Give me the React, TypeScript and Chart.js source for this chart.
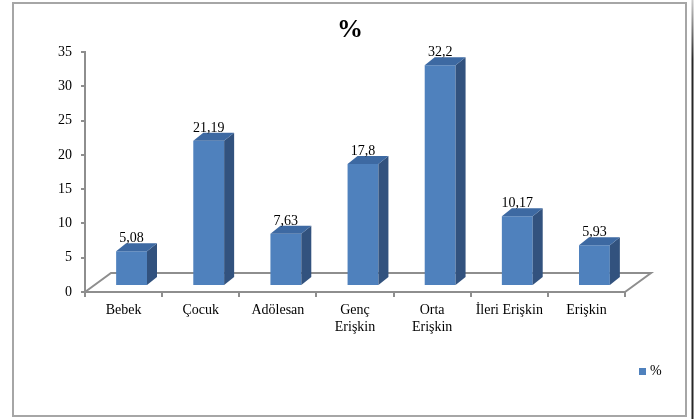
import { useEffect, useRef } from 'react';
import { Chart, registerables } from 'chart.js';

Chart.register(...registerables);

const categories: (string | string[])[] = [
  'Bebek',
  'Çocuk',
  'Adölesan',
  ['Genç', 'Erişkin'],
  ['Orta', 'Erişkin'],
  'İleri Erişkin',
  'Erişkin',
];
const values = [5.08, 21.19, 7.63, 17.8, 32.2, 10.17, 5.93];
const seriesLabel = '%';
const chartTitle = '%';
const yMin = 0;
const yMax = 35;
const yStep = 5;

const FONT = "'Liberation Serif', 'DejaVu Serif', serif";
const FRONT = '#4F81BD';
const SIDE = '#32527E';
const TOP = '#3D69A2';
const AXIS = '#8E8E8E';

const BAR_DX = 8;
const BAR_DY = -6;
const DEPTH_X = 10;
const DEPTH_Y = 8;
const FLOOR_X = 26;
const FLOOR_Y = 19;

const fmt = (v: number) => String(v).replace('.', ',');

const threeD = {
  id: 'threeD',
  beforeDatasetsDraw(chart: any) {
    const { ctx, chartArea: a } = chart;
    ctx.save();
    ctx.strokeStyle = AXIS;
    ctx.lineWidth = 2;
    ctx.beginPath();
    ctx.moveTo(a.left, a.bottom);
    ctx.lineTo(a.left + FLOOR_X, a.bottom - FLOOR_Y);
    ctx.lineTo(a.right + FLOOR_X, a.bottom - FLOOR_Y);
    ctx.lineTo(a.right, a.bottom);
    ctx.stroke();
    ctx.restore();
    ctx.save();
    ctx.translate(BAR_DX, BAR_DY);
  },
  afterDatasetsDraw(chart: any) {
    const ctx = chart.ctx;
    const meta = chart.getDatasetMeta(0);
    const data = chart.data.datasets[0].data as number[];
    meta.data.forEach((bar: any, i: number) => {
      const { x, y, base, width } = bar.getProps(['x', 'y', 'base', 'width'], true);
      const l = x - width / 2;
      const r = x + width / 2;
      ctx.fillStyle = SIDE;
      ctx.beginPath();
      ctx.moveTo(r, y);
      ctx.lineTo(r + DEPTH_X, y - DEPTH_Y);
      ctx.lineTo(r + DEPTH_X, base - DEPTH_Y);
      ctx.lineTo(r, base);
      ctx.closePath();
      ctx.fill();
      ctx.fillStyle = TOP;
      ctx.beginPath();
      ctx.moveTo(l, y);
      ctx.lineTo(l + DEPTH_X, y - DEPTH_Y);
      ctx.lineTo(r + DEPTH_X, y - DEPTH_Y);
      ctx.lineTo(r, y);
      ctx.closePath();
      ctx.fill();
      ctx.fillStyle = '#000';
      ctx.font = `14px ${FONT}`;
      ctx.textAlign = 'center';
      ctx.textBaseline = 'alphabetic';
      ctx.fillText(fmt(data[i]), x, y - 9);
    });
    ctx.restore();
  },
  afterDraw(chart: any) {
    const ctx = chart.ctx;
    ctx.save();
    // outer frame
    ctx.strokeStyle = '#A6A6A6';
    ctx.lineWidth = 2;
    ctx.strokeRect(13, 3, 673, 413);
    const g = ctx.createLinearGradient(0, 0, 0, 60);
    g.addColorStop(0, '#CCCCCC');
    g.addColorStop(1, '#262626');
    ctx.strokeStyle = g;
    ctx.beginPath();
    ctx.moveTo(692.5, 0);
    ctx.lineTo(692.5, 419);
    ctx.stroke();
    // legend
    const ds = chart.data.datasets[0];
    ctx.fillStyle = ds.backgroundColor;
    ctx.fillRect(639, 368, 7, 7);
    ctx.fillStyle = '#000';
    ctx.font = `14px ${FONT}`;
    ctx.textAlign = 'left';
    ctx.textBaseline = 'middle';
    ctx.fillText(ds.label, 650, 371);
    ctx.restore();
  },
};

export default function App() {
  const ref = useRef<HTMLCanvasElement | null>(null);
  useEffect(() => {
    if (!ref.current) return;
    Chart.defaults.font.family = FONT;
    const chart = new Chart(ref.current, {
      type: 'bar',
      data: {
        labels: categories,
        datasets: [
          {
            label: seriesLabel,
            data: values,
            backgroundColor: FRONT,
            borderWidth: 0,
            categoryPercentage: 1,
            barPercentage: 0.4,
          },
        ],
      },
      options: {
        responsive: false,
        animation: false,
        layout: { padding: { left: 6, right: 0, top: 0, bottom: 0 } },
        plugins: {
          legend: { display: false },
          tooltip: { enabled: false },
          title: {
            display: true,
            text: chartTitle,
            color: '#000',
            font: { size: 26, weight: 'bold', family: FONT },
            padding: { top: 15, bottom: 5.8 },
          },
        },
        scales: {
          x: {
            afterFit: (s: any) => {
              s.height = 127;
            },
            grid: { display: true, drawOnChartArea: false, offset: true, tickLength: 5, color: AXIS, lineWidth: 2 },
            border: { display: true, color: AXIS, width: 2 },
            ticks: { color: '#000', font: { size: 14, family: FONT }, padding: 5, maxRotation: 0, autoSkip: false },
          },
          y: {
            min: yMin,
            max: yMax,
            afterFit: (s: any) => {
              s.width = 79;
            },
            grid: { display: true, drawOnChartArea: false, tickLength: 4, color: AXIS, lineWidth: 2 },
            border: { display: true, color: AXIS, width: 2 },
            ticks: { stepSize: yStep, color: '#000', font: { size: 14, family: FONT }, padding: 9 },
          },
          yRight: {
            type: 'linear',
            position: 'right',
            display: true,
            afterFit: (s: any) => {
              s.width = 69;
            },
            grid: { display: false },
            border: { display: false },
            ticks: { display: false },
          },
        },
      },
      plugins: [threeD],
    });
    return () => chart.destroy();
  }, []);
  return (
    <div style={{ position: 'fixed', left: 0, top: 0, width: 694, height: 419, background: '#fff' }}>
      <canvas ref={ref} width={694} height={419} />
    </div>
  );
}
